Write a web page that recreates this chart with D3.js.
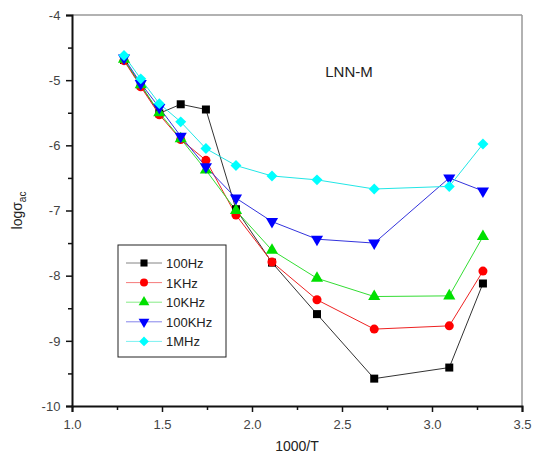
<!DOCTYPE html>
<html>
<head>
<meta charset="utf-8">
<script src="https://cdn.jsdelivr.net/npm/d3@7"></script>
<style>
  body { margin: 0; background: #fff; }
  text { font-family: Arial, "Liberation Sans", sans-serif; }
</style>
</head>
<body>
<svg id="chart"></svg>
<script>
// Set dimensions
const width = 534, height = 459;
const margin = {left: 72, right: 12, top: 15, bottom: 53};

// Data
const xValues = [1.289, 1.382, 1.485, 1.604, 1.744, 1.911, 2.111, 2.361, 2.679, 3.096, 3.283];
const hz100 = [-4.69, -5.08, -5.51, -5.37, -5.45, -6.98, -7.80, -8.59, -9.58, -9.41, -8.12];
const khz1 = [-4.70, -5.10, -5.53, -5.91, -6.23, -7.07, -7.79, -8.37, -8.82, -8.77, -7.93];
const khz10 = [-4.68, -5.07, -5.50, -5.90, -6.38, -7.00, -7.61, -8.04, -8.32, -8.31, -7.40];
const khz100 = [-4.66, -5.05, -5.42, -5.86, -6.33, -6.81, -7.17, -7.44, -7.50, -6.50, -6.70];
const mhz1 = [-4.62, -4.98, -5.36, -5.64, -6.05, -6.31, -6.47, -6.53, -6.67, -6.63, -5.98];

const xTicks = [1.0, 1.5, 2.0, 2.5, 3.0, 3.5];
const yTicks = [-10, -9, -8, -7, -6, -5, -4];

const series = [
  {name: "100Hz", values: hz100, color: "#000000", line: "#333333", symbol: d3.symbolSquare},
  {name: "1KHz", values: khz1, color: "#ff0000", line: "#ee2222", symbol: d3.symbolCircle},
  {name: "10KHz", values: khz10, color: "#00e000", line: "#33dd33", symbol: d3.symbolTriangle},
  {name: "100KHz", values: khz100, color: "#0000ff", line: "#3333dd", symbol: "down"},
  {name: "1MHz", values: mhz1, color: "#00ffff", line: "#22e6e6", symbol: d3.symbolDiamond2}
];

const svg = d3.select("#chart")
  .attr("width", width)
  .attr("height", height);

const x = d3.scaleLinear().domain([1.0, 3.5]).range([margin.left, width - margin.right]);
const y = d3.scaleLinear().domain([-10, -4]).range([height - margin.bottom, margin.top]);

// Frame: top and right in gray
svg.append("line")
  .attr("x1", x(1.0)).attr("x2", x(3.5))
  .attr("y1", y(-4)).attr("y2", y(-4))
  .attr("stroke", "#999").attr("stroke-width", 1.5);
svg.append("line")
  .attr("x1", x(3.5)).attr("x2", x(3.5))
  .attr("y1", y(-4)).attr("y2", y(-10))
  .attr("stroke", "#999").attr("stroke-width", 1.5);

// Axes
svg.append("g")
  .attr("transform", `translate(0,${y(-10)})`)
  .call(d3.axisBottom(x).tickValues(xTicks).tickFormat(d => d.toFixed(1)).tickSize(6).tickPadding(8));
svg.append("g")
  .attr("transform", `translate(0,${y(-10)})`)
  .call(d3.axisBottom(x).tickValues(d3.range(1.25, 3.5, 0.5)).tickFormat("").tickSize(4))
  .select(".domain").remove();

const yAxis = svg.append("g")
  .attr("transform", `translate(${x(1.0)},0)`)
  .call(d3.axisLeft(y).tickValues(yTicks).tickFormat(d => String(d)).tickSize(6).tickPadding(3));
svg.append("g")
  .attr("transform", `translate(${x(1.0)},0)`)
  .call(d3.axisLeft(y).tickValues(d3.range(-9.5, -4, 1)).tickFormat("").tickSize(4))
  .select(".domain").remove();

svg.selectAll(".domain").attr("stroke", "#111").attr("stroke-width", 2);
svg.selectAll(".tick line").attr("stroke", "#111").attr("stroke-width", 1.5);
svg.selectAll(".tick text")
  .attr("font-size", 13)
  .attr("fill", "#444")
  .style("font-family", "Arial, 'Liberation Sans', sans-serif");
yAxis.selectAll(".tick text").attr("dx", "-0.2em");

// Axis titles
svg.append("text")
  .attr("x", x(2.25))
  .attr("y", 451)
  .attr("text-anchor", "middle")
  .attr("font-size", 14)
  .attr("fill", "#222")
  .text("1000/T");

const yTitle = svg.append("text")
  .attr("transform", `translate(22,${y(-7)}) rotate(-90)`)
  .attr("text-anchor", "middle")
  .attr("font-size", 14)
  .attr("fill", "#222");
yTitle.append("tspan").text("logσ");
yTitle.append("tspan").attr("font-size", 10).attr("dy", 4).text("ac");

// Annotation
svg.append("text")
  .attr("x", 349)
  .attr("y", 77)
  .attr("text-anchor", "middle")
  .attr("font-size", 15)
  .attr("fill", "#222")
  .text("LNN-M");

// Marker helper
function marker(g, s, size) {
  if (s.symbol === "down") {
    g.append("path")
      .attr("d", d3.symbol().type(d3.symbolTriangle).size(size)())
      .attr("transform", "rotate(180)")
      .attr("fill", s.color);
  } else {
    g.append("path")
      .attr("d", d3.symbol().type(s.symbol).size(s.symbol === d3.symbolDiamond2 ? size * 1.2 : size)())
      .attr("fill", s.color);
  }
}

const line = d3.line()
  .x((d, i) => x(xValues[i]))
  .y(d => y(d));

// Lines first, then markers
series.forEach(s => {
  svg.append("path")
    .datum(s.values)
    .attr("d", line)
    .attr("fill", "none")
    .attr("stroke", s.line)
    .attr("stroke-width", 1);
});

series.forEach(s => {
  s.values.forEach((v, i) => {
    const g = svg.append("g").attr("transform", `translate(${x(xValues[i])},${y(v)})`);
    marker(g, s, 64);
  });
});

// Legend
const legend = svg.append("g").attr("transform", "translate(118,245)");
legend.append("rect")
  .attr("width", 108).attr("height", 112)
  .attr("fill", "#fff")
  .attr("stroke", "#222")
  .attr("stroke-width", 1);

series.forEach((s, i) => {
  const row = legend.append("g").attr("transform", `translate(0,${18 + i * 19.6})`);
  row.append("line")
    .attr("x1", 8).attr("x2", 44)
    .attr("stroke", s.line).attr("stroke-opacity", 0.6).attr("stroke-width", 1);
  const m = row.append("g").attr("transform", "translate(26,0)");
  marker(m, s, 50);
  row.append("text")
    .attr("x", 48)
    .attr("y", 5)
    .attr("font-size", 13)
    .attr("fill", "#222")
    .text(s.name);
});
</script>
</body>
</html>
